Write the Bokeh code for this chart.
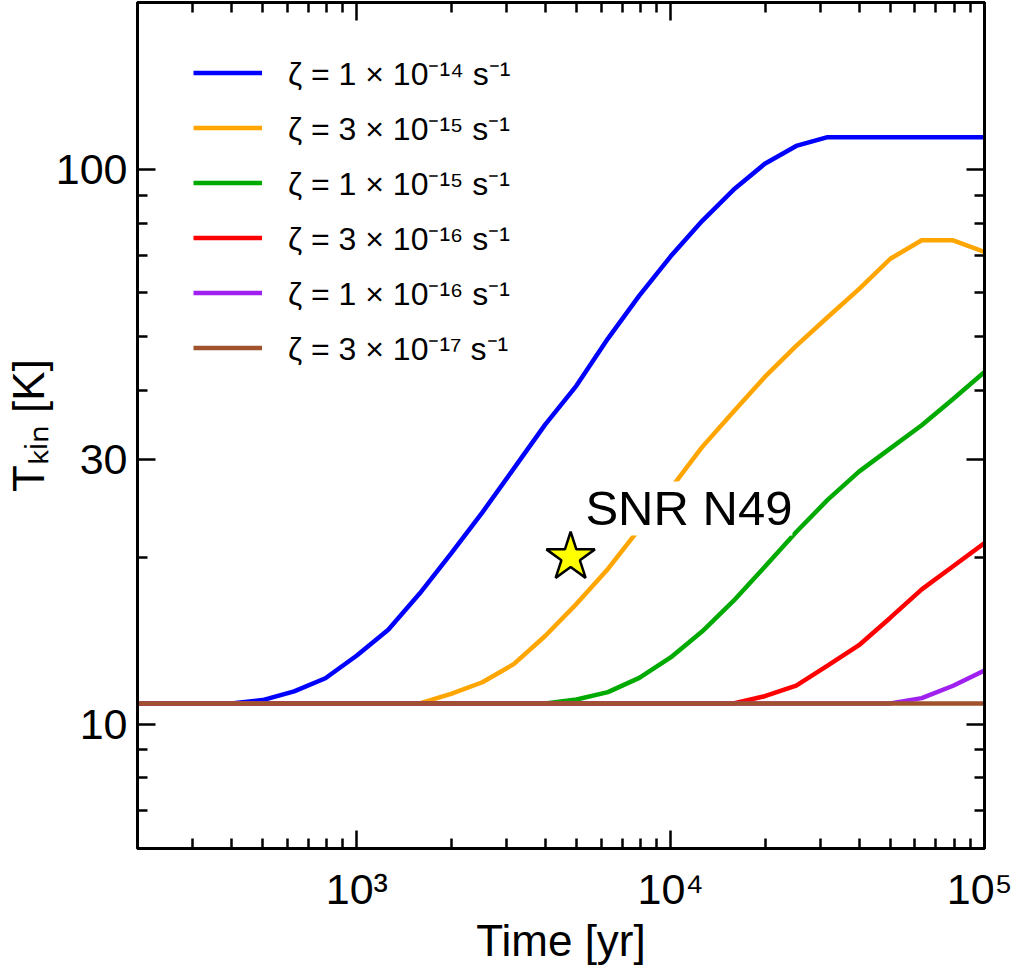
from bokeh.plotting import figure
from bokeh.models import (FixedTicker, LogAxis, Label, Legend, LegendItem,
                          BasicTickFormatter)
from bokeh.embed import file_html
from bokeh.resources import INLINE

# ---------------- data ----------------
time_yr = [200, 251, 316, 398, 501, 631, 794, 1000, 1259, 1585, 1995, 2512,
           3162, 3981, 5012, 6310, 7943, 10000, 12589, 15849, 19953, 25119,
           31623, 39811, 50119, 63096, 79433, 100000]

T_zeta_1e14 = [10.9, 10.9, 10.9, 10.9, 11.05, 11.46, 12.1, 13.3, 14.8, 17.2,
               20.3, 24.1, 28.9, 34.7, 40.8, 49.6, 59.3, 69.8, 80.8, 92.0,
               102.5, 110.4, 114.5, 114.5, 114.5, 114.5, 114.5, 114.5]
T_zeta_3e15 = [10.9, 10.9, 10.9, 10.9, 10.9, 10.9, 10.9, 10.9, 10.9, 10.9,
               11.34, 11.9, 12.83, 14.42, 16.48, 19.05, 22.5, 26.6, 31.6, 36.6,
               42.3, 48.1, 54.2, 60.9, 69.1, 74.6, 74.6, 71.1]
T_zeta_1e15 = [10.9] * 14 + [11.08, 11.42, 12.12, 13.19, 14.69, 16.68, 19.22,
                             22.21, 25.38, 28.54, 31.43, 34.6, 38.6, 43.2]
T_zeta_3e16 = [10.9] * 20 + [11.23, 11.73, 12.75, 13.88, 15.56, 17.5, 19.27, 21.22]
T_zeta_1e16 = [10.9] * 25 + [11.14, 11.73, 12.49]
T_zeta_3e17 = [10.9] * 28

series_labels = ["ζ = 1 × 10⁻¹⁴ s⁻¹", "ζ = 3 × 10⁻¹⁵ s⁻¹", "ζ = 1 × 10⁻¹⁵ s⁻¹",
                 "ζ = 3 × 10⁻¹⁶ s⁻¹", "ζ = 1 × 10⁻¹⁶ s⁻¹", "ζ = 3 × 10⁻¹⁷ s⁻¹"]
series_values = [T_zeta_1e14, T_zeta_3e15, T_zeta_1e15, T_zeta_3e16, T_zeta_1e16, T_zeta_3e17]
series_colors = ["#0000FF", "#FFA500", "#00AA00", "#FF0000", "#A020F0", "#A0522D"]

star_t = [4800]
star_T = [20.0]
star_label = "SNR N49"
star_label_t = 5350
star_label_T = 24.5

x_major = [1000, 10000, 100000]
x_major_labels = {1000: "10³", 10000: "10⁴", 100000: "10⁵"}
x_minor = [300, 400, 500, 600, 700, 800, 900,
           2000, 3000, 4000, 5000, 6000, 7000, 8000, 9000,
           20000, 30000, 40000, 50000, 60000, 70000, 80000, 90000]
y_major = [10, 30, 100]
y_minor = [7, 8, 9, 20, 40, 50, 60, 70, 80, 90]

FONT = "Liberation Sans"

# ---------------- figure ----------------
p = figure(width=1012, height=967, x_axis_type="log", y_axis_type="log",
           x_range=(200, 100000), y_range=(5.966, 200.3),
           output_backend="svg", toolbar_location=None,
           min_border_left=137, min_border_right=28,
           min_border_top=2, min_border_bottom=115)
p.background_fill_color = "white"
p.border_fill_color = "white"
p.outline_line_color = "black"
p.outline_line_width = 3
p.xgrid.visible = False
p.ygrid.visible = False

xt = FixedTicker(ticks=x_major, minor_ticks=x_minor)
yt = FixedTicker(ticks=y_major, minor_ticks=y_minor)


def style_axis(ax):
    ax.axis_line_color = "black"
    ax.axis_line_width = 3
    ax.major_tick_in = 18
    ax.major_tick_out = 0
    ax.minor_tick_in = 10
    ax.minor_tick_out = 0
    ax.major_tick_line_width = 2.5
    ax.minor_tick_line_width = 2.5
    ax.major_tick_line_color = "black"
    ax.minor_tick_line_color = "black"
    ax.major_label_text_font = FONT
    ax.major_label_text_color = "black"
    ax.axis_label_text_font = FONT
    ax.axis_label_text_font_style = "normal"
    ax.axis_label_text_color = "black"


xa = p.xaxis[0]
xa.ticker = xt
xa.major_label_overrides = x_major_labels
style_axis(xa)
xa.major_label_text_font_size = "43px"
xa.major_label_standoff = 16
xa.axis_label = "Time [yr]"
xa.axis_label_text_font_size = "44px"
xa.axis_label_standoff = 0

ya = p.yaxis[0]
ya.ticker = yt
ya.formatter = BasicTickFormatter()
style_axis(ya)
ya.major_label_text_font_size = "43px"
ya.major_label_standoff = 10
ya.axis_label = "Tₖᵢₙ [K]"
ya.axis_label_text_font_size = "44px"
ya.axis_label_standoff = 0

# mirrored tick axes (no labels)
top_ax = LogAxis(ticker=xt, major_label_overrides={t: "" for t in x_major})
style_axis(top_ax)
top_ax.major_label_text_font_size = "1px"
top_ax.major_label_standoff = 0
p.add_layout(top_ax, "above")
right_ax = LogAxis(ticker=yt, major_label_overrides={t: "" for t in y_major})
style_axis(right_ax)
right_ax.major_label_text_font_size = "1px"
right_ax.major_label_standoff = 0
p.add_layout(right_ax, "right")

# ---------------- lines ----------------
renderers = []
for vals, col in zip(series_values, series_colors):
    r = p.line(time_yr, vals, line_color=col, line_width=4.5)
    renderers.append(r)

# annotation text with white box
p.add_layout(Label(x=star_label_t, y=star_label_T, text=star_label,
                   text_font=FONT, text_font_size="49px", text_color="black",
                   text_align="left", text_baseline="middle",
                   background_fill_color="white", padding=0))

p.scatter(star_t, star_T, marker="star", size=51, fill_color="#FFFF00",
          line_color="black", line_width=2.5)

# ---------------- legend ----------------
items = [LegendItem(label=lbl, renderers=[r]) for lbl, r in zip(series_labels, renderers)]
legend = Legend(items=items, location=(56, 479), orientation="vertical",
                border_line_color=None, background_fill_alpha=0,
                padding=0, margin=0, spacing=12,
                glyph_width=69, glyph_height=41, label_height=41,
                label_standoff=26, label_text_font=FONT,
                label_text_font_size="32px", label_text_color="black")
p.add_layout(legend)

open("out.html", "w").write(file_html(p, INLINE))
